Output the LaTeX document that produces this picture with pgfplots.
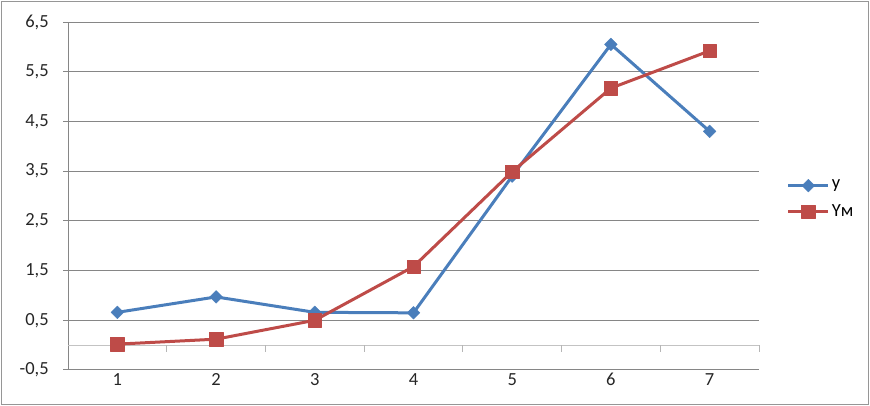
\documentclass[border=0pt]{standalone}
\usepackage{pgfplots}
\pgfplotsset{compat=1.18}
\usepackage{fontspec}
\setmainfont{Carlito}
\definecolor{exblue}{RGB}{74,126,187}
\definecolor{exred}{RGB}{190,75,72}
\definecolor{gridgray}{RGB}{134,134,134}
\definecolor{zerogray}{RGB}{195,195,195}
\definecolor{framegray}{RGB}{150,150,150}
\begin{document}
\fontsize{18.5bp}{22bp}\selectfont
\begin{tikzpicture}
\path (0,0) rectangle (870bp,406bp);
\draw[framegray, line width=1.2bp] (1.5bp,1.5bp) rectangle (868.5bp,404.5bp);
\begin{axis}[
  at={(68bp,36bp)}, anchor=south west,
  scale only axis, width=691bp, height=348bp,
  xmin=0.5, xmax=7.5, ymin=-0.5, ymax=6.5,
  axis y line*=left, axis x line*=bottom,
  axis line style={gridgray, line width=1bp},
  xtick={1,2,3,4,5,6,7},
  xticklabels={1,2,3,4,5,6,7},
  x tick style={draw=none},
  ytick={-0.5,0.5,1.5,2.5,3.5,4.5,5.5,6.5},
  yticklabels={{-0,5},{0,5},{1,5},{2,5},{3,5},{4,5},{5,5},{6,5}},
  y tick style={gridgray, line width=1bp},
  tick align=outside,
  major tick length=5bp,
  ymajorgrids,
  grid style={gridgray, line width=1bp},
  tick label style={font=\fontsize{18.5bp}{22bp}\selectfont, text=black!85},
  xticklabel style={yshift=8bp},
  yticklabel style={xshift=-8bp},
  legend cell align=left,
  legend style={at={(1.04,0.49)}, anchor=west, draw=none, fill=none,
    row sep=9bp, font=\fontsize{18.5bp}{22bp}\selectfont, inner sep=0pt},
  legend image code/.code={\draw[mark repeat=2, mark phase=2, #1] plot coordinates {(0bp,0bp) (20bp,0bp) (40bp,0bp)};},
  clip=false,
]
\draw[zerogray, line width=1bp] (axis cs:0.5,0) -- (axis cs:7.5,0);
\pgfplotsinvokeforeach{1.5,2.5,3.5,4.5,5.5,6.5,7.5}{
  \draw[zerogray!80!gray, line width=1bp] (axis cs:#1,0) -- ++(0pt,-7bp);
}
\addplot[exblue, line width=3bp, line join=round, mark=square*, mark size=4.5bp,
  mark options={rotate=45, solid, line width=0.4bp}]
  coordinates {(1,0.66) (2,0.97) (3,0.66) (4,0.65) (5,3.40) (6,6.05) (7,4.30)};
\addlegendentry{y}
\addplot[exred, line width=3bp, line join=round, mark=square*, mark size=6.7bp,
  mark options={solid, line width=0.4bp}]
  coordinates {(1,0.02) (2,0.12) (3,0.50) (4,1.58) (5,3.49) (6,5.17) (7,5.92)};
\addlegendentry{Yм}
\end{axis}
\end{tikzpicture}
\end{document}
